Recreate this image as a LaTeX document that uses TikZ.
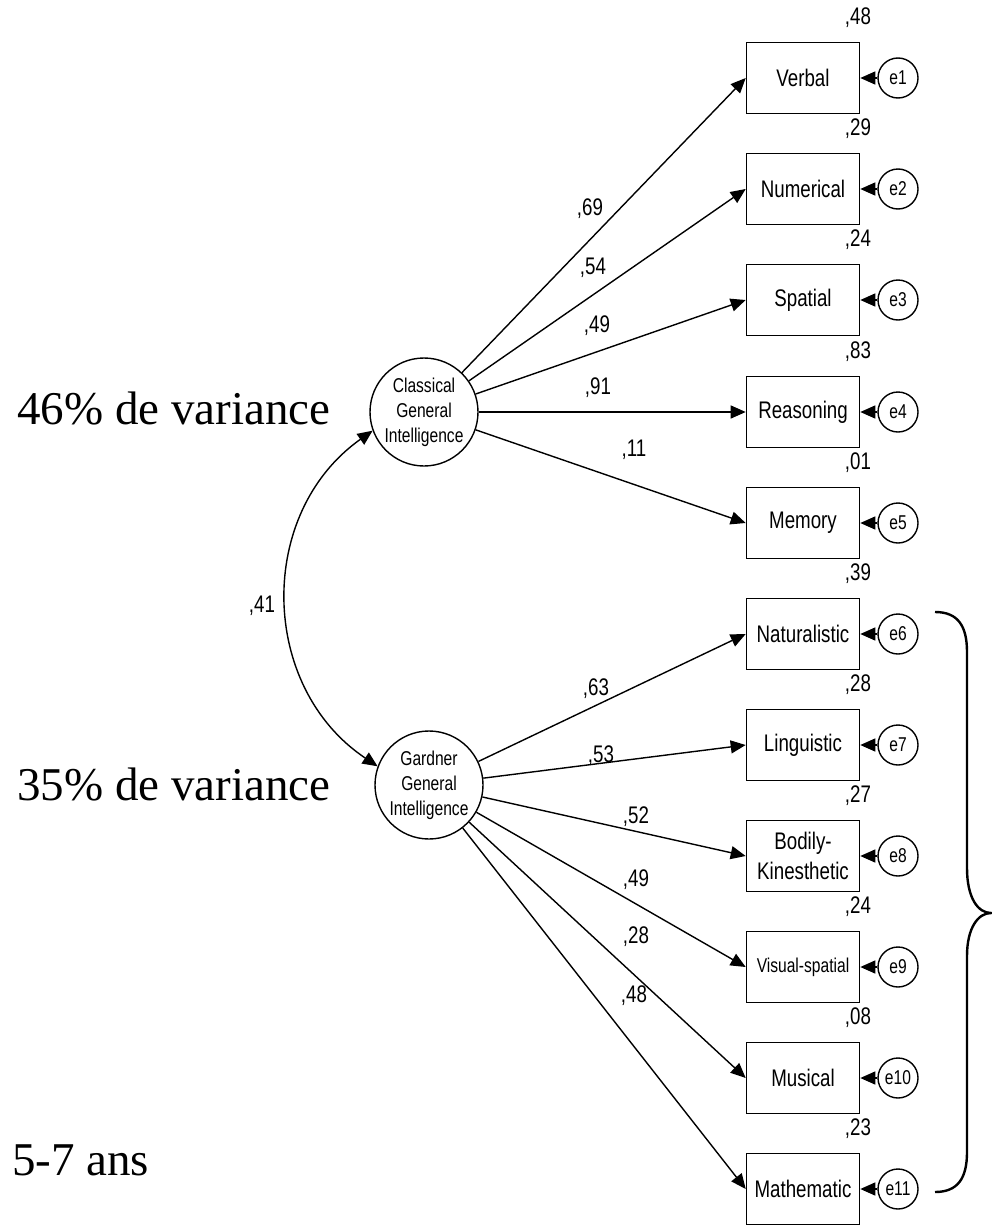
\documentclass[tikz,border=0pt]{standalone}
\usepackage{fontspec}
\setmainfont{Liberation Serif}
\newfontfamily\amos[FakeStretch=0.78]{Liberation Sans}
\usetikzlibrary{arrows,arrows.meta,shapes,positioning}

\begin{document}
\begin{tikzpicture}[x=1pt,y=-1pt,
  obs/.style={draw,line width=1.6pt,minimum width=113pt,minimum height=71pt,inner sep=0pt,align=center,font=\amos\fontsize{24}{30}\selectfont},
  lat/.style={draw,circle,line width=1.4pt,minimum size=108pt,inner sep=0pt,align=center,font=\amos\fontsize{20}{25}\selectfont},
  err/.style={draw,circle,line width=1.4pt,minimum size=40pt,inner sep=0pt,font=\amos\fontsize{20}{24}\selectfont},
  coef/.style={inner sep=0pt,font=\amos\fontsize{24}{28}\selectfont},
  big/.style={inner sep=0pt,anchor=base west,font=\fontsize{47}{56}\selectfont},
  arr/.style={-{Triangle[length=15pt,width=13pt]},line width=1.4pt},
  dbl/.style={{Triangle[length=15pt,width=13pt]}-{Triangle[length=15pt,width=13pt]},line width=1.4pt}]
\useasboundingbox (0,0) rectangle (991,1226);

\node[big] (v46) at (17,424) {46\% de variance};
\node[big] (v35) at (17,800) {35\% de variance};
\node[big] (age) at (12,1175) {5-7 ans};

\node[lat] (cls) at (424,412) {Classical\\General\\Intelligence};
\node[lat] (gdn) at (429,785) {Gardner\\General\\Intelligence};

\node[obs] (verbal) at (803,78) {Verbal};
\node[obs] (numerical) at (803,189) {Numerical};
\node[obs] (spatial) at (803,300) {Spatial};
\node[obs] (reasoning) at (803,412) {Reasoning};
\node[obs] (memory) at (803,523) {Memory};
\node[obs] (naturalistic) at (803,634) {Naturalistic};
\node[obs] (linguistic) at (803,745) {Linguistic};
\node[obs] (bodily) at (803,856) {Bodily-\\Kinesthetic};
\node[obs,font=\amos\fontsize{20}{24}\selectfont] (visual) at (803,967) {Visual-spatial};
\node[obs] (musical) at (803,1078) {Musical};
\node[obs] (mathematic) at (803,1189) {Mathematic};

\node[err] (e1) at (898,78) {e1};
\node[err] (e2) at (898,189) {e2};
\node[err] (e3) at (898,300) {e3};
\node[err] (e4) at (898,412) {e4};
\node[err] (e5) at (898,523) {e5};
\node[err] (e6) at (898,634) {e6};
\node[err] (e7) at (898,745) {e7};
\node[err] (e8) at (898,856) {e8};
\node[err] (e9) at (898,967) {e9};
\node[err] (e10) at (898,1078) {e10};
\node[err] (e11) at (898,1189) {e11};

\node[coef] (r1) at (858,18) {,48};
\node[coef] (r2) at (858,129) {,29};
\node[coef] (r3) at (858,240) {,24};
\node[coef] (r4) at (858,352) {,83};
\node[coef] (r5) at (858,463) {,01};
\node[coef] (r6) at (858,574) {,39};
\node[coef] (r7) at (858,685) {,28};
\node[coef] (r8) at (858,796) {,27};
\node[coef] (r9) at (858,907) {,24};
\node[coef] (r10) at (858,1018) {,08};
\node[coef] (r11) at (858,1129) {,23};

\node[coef] (c1) at (590,209) {,69};
\node[coef] (c2) at (593,268) {,54};
\node[coef] (c3) at (597,326) {,49};
\node[coef] (c4) at (598,388) {,91};
\node[coef] (c5) at (634,450) {,11};
\node[coef] (c6) at (596,689) {,63};
\node[coef] (c7) at (601,756) {,53};
\node[coef] (c8) at (636,817) {,52};
\node[coef] (c9) at (636,880) {,49};
\node[coef] (c10) at (636,937) {,28};
\node[coef] (c11) at (634,996) {,48};
\node[coef] (cov) at (262,606) {,41};

\draw[arr] (cls) -- (verbal.west);
\draw[arr] (cls) -- (numerical.west);
\draw[arr] (cls) -- (spatial.west);
\draw[arr] (cls) -- (reasoning.west);
\draw[arr] (cls) -- (memory.west);
\draw[arr] (gdn) -- (naturalistic.west);
\draw[arr] (gdn) -- (linguistic.west);
\draw[arr] (gdn) -- (bodily.west);
\draw[arr] (gdn) -- (visual.west);
\draw[arr] (gdn) -- (musical.west);
\draw[arr] (gdn) -- (mathematic.west);

\draw[arr] (e1) -- (verbal);
\draw[arr] (e2) -- (numerical);
\draw[arr] (e3) -- (spatial);
\draw[arr] (e4) -- (reasoning);
\draw[arr] (e5) -- (memory);
\draw[arr] (e6) -- (naturalistic);
\draw[arr] (e7) -- (linguistic);
\draw[arr] (e8) -- (bodily);
\draw[arr] (e9) -- (visual);
\draw[arr] (e10) -- (musical);
\draw[arr] (e11) -- (mathematic);

\draw[dbl] (cls.200) .. controls (256,513) and (259,687) .. (gdn.160);

\coordinate (btop) at (935,612);
\coordinate (btip) at (991,913);
\coordinate (bbot) at (935,1192);
\draw[line width=2.4pt] (btop) .. controls (958,612) and (967,626) .. (967,652) -- (967,868)
  .. controls (967,898) and (978,913) .. (btip)
  .. controls (978,913) and (967,928) .. (967,956) -- (967,1152)
  .. controls (967,1178) and (958,1192) .. (bbot);
\end{tikzpicture}
\end{document}
